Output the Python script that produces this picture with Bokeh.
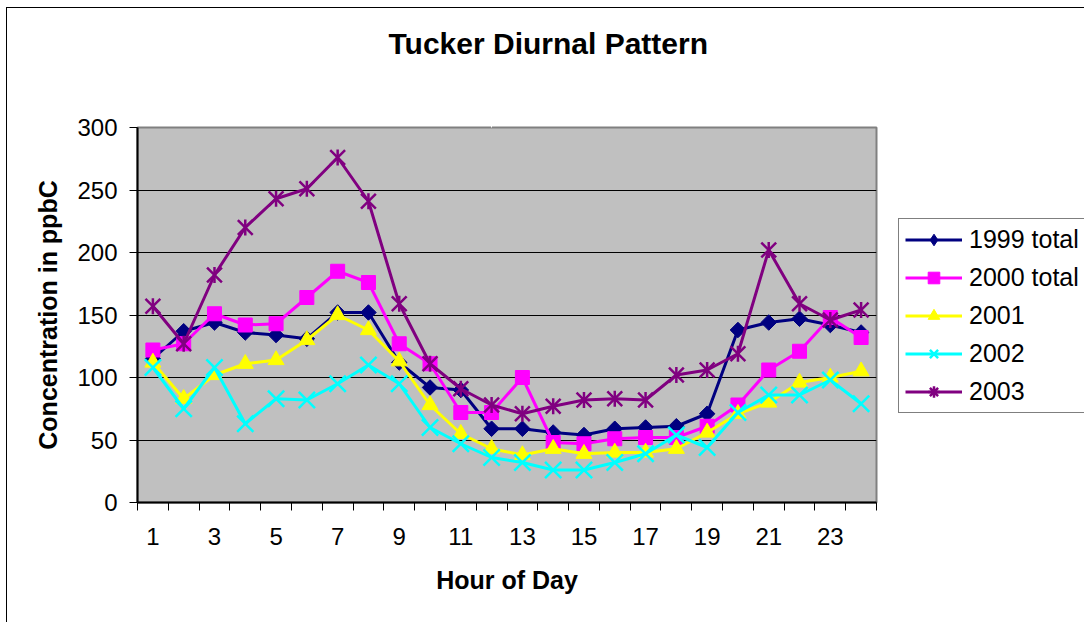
import math
from bokeh.plotting import figure
from bokeh.layouts import row
from bokeh.models import FixedTicker, Legend, LegendItem, Range1d, LinearAxis, Title
from bokeh.embed import file_html
from bokeh.resources import INLINE

hours = list(range(1, 25))
tick_hours = list(range(1, 25, 2))
boundaries = [h - 0.5 for h in range(1, 26)]
y_ticks = [0, 50, 100, 150, 200, 250, 300]

s1999 = [115, 137, 144, 136, 134, 131, 152, 152, 112, 92, 90, 59, 59, 56, 54, 59, 60, 61, 71, 138, 144, 147, 142, 136]
s2000 = [122, 127, 151, 142, 143, 164, 185, 176, 127, 111, 72, 72, 100, 48, 47, 51, 52, 52, 61, 78, 106, 121, 148, 132]
s2001 = [112, 83, 102, 111, 114, 130, 150, 138, 113, 78, 55, 43, 38, 43, 39, 40, 40, 43, 56, 71, 80, 96, 100, 105]
s2002 = [108, 75, 108, 63, 83, 82, 95, 110, 95, 60, 47, 36, 32, 26, 26, 32, 39, 54, 44, 72, 86, 86, 98, 79]
s2003 = [157, 127, 182, 220, 243, 251, 276, 241, 159, 111, 91, 78, 71, 77, 82, 83, 82, 102, 106, 119, 202, 159, 146, 154]

names = ["1999 total", "2000 total", "2001", "2002", "2003"]
colors = ["#000080", "#FF00FF", "#FFFF00", "#00FFFF", "#800080"]
chart_title = "Tucker Diurnal Pattern"

FONT = "Liberation Sans"

# ---------------- main chart ----------------
p = figure(width=873, height=614, output_backend="svg", toolbar_location=None,
           x_range=Range1d(0.5, 24.5), y_range=Range1d(0, 300),
           min_border_left=130, min_border_right=4, min_border_top=119, min_border_bottom=120,
           background_fill_color="#C0C0C0", border_fill_color="white",
           outline_line_color="#808080", outline_line_width=2)
p.title = None

# blank spacer axis between the frame and the title (white tick on white, no label)
spacer = LinearAxis(ticker=FixedTicker(ticks=[12]), major_tick_out=48, major_tick_in=0,
                    major_tick_line_color="white", major_tick_line_width=1,
                    minor_tick_line_color=None, axis_line_color=None,
                    major_label_overrides={12: ""}, major_label_text_color=None,
                    major_label_standoff=0)
p.add_layout(spacer, "above")

title = Title(text=chart_title, align="left", offset=251, vertical_align="top",
              standoff=36, text_font=FONT, text_font_size="30px",
              text_font_style="bold", text_color="black")
p.add_layout(title, "above")

xax = p.below[0]
xax.ticker = FixedTicker(ticks=tick_hours, minor_ticks=boundaries)
xax.major_tick_out = 0
xax.major_tick_in = 0
xax.minor_tick_out = 8
xax.minor_tick_in = 0
xax.minor_tick_line_color = "black"
xax.major_label_standoff = 17
xax.axis_label = "Hour of Day"
xax.axis_label_standoff = 18

yax = p.left[0]
yax.ticker = FixedTicker(ticks=y_ticks)
yax.major_tick_out = 8
yax.major_tick_in = 0
yax.minor_tick_line_color = None
yax.major_label_standoff = 12
yax.axis_label = "Concentration in ppbC"
yax.axis_label_standoff = 12

for ax in (xax, yax):
    ax.axis_line_color = "black"
    ax.axis_line_width = 2
    ax.major_tick_line_color = "black"
    ax.major_label_text_font = FONT
    ax.major_label_text_font_size = "24px"
    ax.major_label_text_color = "black"
    ax.axis_label_text_font = FONT
    ax.axis_label_text_font_size = "25px"
    ax.axis_label_text_font_style = "bold"
    ax.axis_label_text_color = "black"

p.xgrid.grid_line_color = None
p.ygrid.ticker = FixedTicker(ticks=y_ticks)
p.ygrid.grid_line_color = "black"
p.ygrid.grid_line_width = 1

# ---------------- legend panel (its frame lines up with the chart frame) ----------------
lf = figure(width=204, height=614, output_backend="svg", toolbar_location=None,
            x_range=Range1d(-2, -1), y_range=Range1d(-2, -1),
            x_axis_type=None, y_axis_type=None, min_border=0,
            outline_line_color=None, background_fill_color="white", border_fill_color="white")
lf.title = None
lf.xgrid.visible = False
lf.ygrid.visible = False

series = [s1999, s2000, s2001, s2002, s2003]
items = []
for i, (name, col, ys) in enumerate(zip(names, colors, series)):
    p.line(hours, ys, line_color=col, line_width=3)
    # legend swatches: same data, drawn in the legend panel outside its visible range
    rs = [lf.line(hours, ys, line_color=col, line_width=3)]
    if i == 0:
        p.scatter(hours, ys, marker="square", angle=math.pi / 4, size=11,
                  fill_color=col, line_color=col)
        rs.append(lf.scatter(hours, ys, marker="diamond", size=16, fill_color=col, line_color=col))
    elif i == 1:
        p.scatter(hours, ys, marker="square", size=14, fill_color=col, line_color=col)
        rs.append(lf.scatter(hours, ys, marker="square", size=14, fill_color=col, line_color=col))
    elif i == 2:
        p.scatter(hours, ys, marker="triangle", size=16, fill_color=col, line_color=col)
        rs.append(lf.scatter(hours, ys, marker="triangle", size=16, fill_color=col, line_color=col))
    elif i == 3:
        p.scatter(hours, ys, marker="x", size=23, line_color=col, line_width=2.5)
        rs.append(lf.scatter(hours, ys, marker="x", size=20, line_color=col, line_width=2.5))
    else:
        p.scatter(hours, ys, marker="x", size=21, line_color=col, line_width=2.5)
        p.scatter(hours, ys, marker="dash", angle=math.pi / 2, size=16,
                  line_color=col, line_width=2.5)
        rs.append(lf.scatter(hours, ys, marker="asterisk", size=16, line_color=col, line_width=2.5))
    items.append(LegendItem(label=name, renderers=rs))

legend = Legend(items=items, location=(18, 89), orientation="vertical",
                border_line_color="black", border_line_width=1,
                background_fill_color="white", background_fill_alpha=1,
                label_text_font=FONT, label_text_font_size="25px", label_text_color="black",
                glyph_width=57, glyph_height=29, label_height=29,
                spacing=9, padding=6, margin=0, label_standoff=7)
lf.add_layout(legend, "center")

layout = row(p, lf, spacing=0)
layout.styles = {"margin-left": "6px", "margin-top": "7px",
                 "border-left": "1px solid black", "border-top": "1px solid black"}

open("out.html", "w").write(file_html(layout, INLINE))
